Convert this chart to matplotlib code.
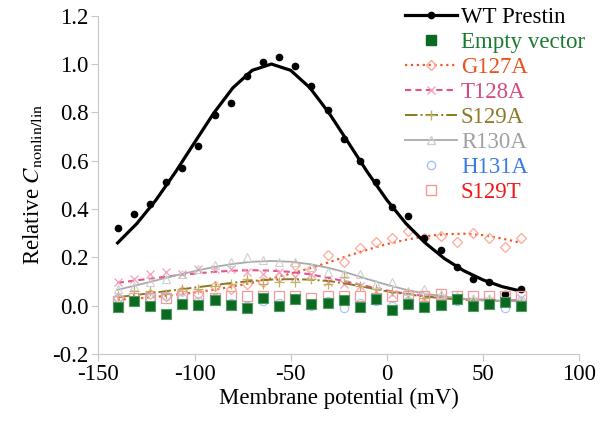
import matplotlib
matplotlib.use('Agg')
import matplotlib.pyplot as plt
from matplotlib.lines import Line2D
from matplotlib.ticker import FormatStrFormatter

plt.rcParams['font.family'] = ['Liberation Serif', 'DejaVu Serif']
plt.rcParams['mathtext.fontset'] = 'stix'
plt.rcParams['axes.unicode_minus'] = False

# measured voltages (mV)
voltage = [-140.0, -131.6, -123.2, -114.8, -106.4, -98.0, -89.6, -81.2, -72.8, -64.4,
           -56.0, -47.6, -39.2, -30.8, -22.4, -14.0, -5.6, 2.8, 11.2, 19.6,
           28.0, 36.4, 44.8, 53.2, 61.6, 70.0]

wt = [0.32, 0.38, 0.42, 0.51, 0.57, 0.66, 0.79, 0.84, 0.95, 1.01,
      1.03, 0.99, 0.91, 0.81, 0.69, 0.60, 0.51, 0.41, 0.37, 0.28,
      0.23, 0.16, 0.11, 0.10, 0.05, 0.07]
empty = [-0.007, 0.021, -0.003, -0.033, 0.008, 0.003, 0.025, 0.003, -0.010, 0.030,
         0.000, 0.029, 0.008, 0.011, 0.025, -0.005, 0.029, -0.017, 0.008, -0.007,
         0.001, 0.029, -0.003, 0.008, 0.014, 0.000]
g127a = [0.03, 0.02, 0.05, 0.04, 0.06, 0.05, 0.08, 0.07, 0.09, 0.10,
         0.12, 0.17, 0.15, 0.21, 0.18, 0.24, 0.265, 0.28, 0.31, 0.28,
         0.29, 0.265, 0.30, 0.28, 0.245, 0.28]
t128a = [0.10, 0.11, 0.13, 0.14, 0.13, 0.15, 0.15, 0.15, 0.14, 0.13,
         0.14, 0.12, 0.13, 0.10, 0.09, 0.08, 0.06, 0.05, 0.04, 0.03,
         0.03, 0.03, 0.02, 0.02, 0.02, 0.03]
s129a = [0.04, 0.06, 0.06, 0.05, 0.07, 0.07, 0.08, 0.09, 0.11, 0.09,
         0.10, 0.10, 0.11, 0.09, 0.12, 0.08, 0.07, 0.06, 0.05, 0.03,
         0.04, 0.03, 0.02, 0.02, 0.02, 0.02]
r130a = [0.07, 0.08, 0.10, 0.11, 0.13, 0.15, 0.17, 0.18, 0.20, 0.19,
         0.18, 0.18, 0.16, 0.14, 0.13, 0.13, 0.09, 0.10, 0.06, 0.07,
         0.05, 0.04, 0.03, 0.03, 0.02, 0.02]
h131a = [0.03, 0.02, 0.03, 0.04, 0.03, 0.02, 0.03, 0.01, 0.00, 0.02,
         0.01, 0.03, 0.00, 0.02, -0.01, 0.01, 0.02, 0.00, 0.02, -0.01,
         0.01, 0.02, 0.00, 0.01, -0.01, 0.02]
s129t = [0.02, 0.03, 0.03, 0.03, 0.04, 0.04, 0.03, 0.04, 0.04, 0.04,
         0.04, 0.04, 0.03, 0.04, 0.04, 0.04, 0.03, 0.04, 0.04, 0.04,
         0.05, 0.04, 0.04, 0.04, 0.04, 0.04]

# fitted curves
fit_v = [-140, -130, -120, -110, -100, -90, -80, -70, -60, -50, -40,
         -30, -20, -10, 0, 10, 20, 30, 40, 50, 60, 70]
wt_fit = [0.26, 0.34, 0.438, 0.552, 0.675, 0.797, 0.902, 0.974, 1.0, 0.974, 0.902,
          0.797, 0.675, 0.552, 0.438, 0.34, 0.26, 0.195, 0.145, 0.107, 0.079, 0.06]
g127a_fit = [0.025, 0.030, 0.037, 0.045, 0.055, 0.066, 0.080, 0.095, 0.113, 0.133, 0.155,
             0.180, 0.207, 0.232, 0.255, 0.273, 0.287, 0.296, 0.298, 0.292, 0.278, 0.26]
t128a_fit = [0.095, 0.105, 0.115, 0.125, 0.133, 0.140, 0.145, 0.147, 0.145, 0.140, 0.130,
             0.115, 0.098, 0.080, 0.063, 0.050, 0.040, 0.033, 0.028, 0.025, 0.023, 0.022]
s129a_fit = [0.035, 0.045, 0.055, 0.065, 0.075, 0.085, 0.095, 0.103, 0.108, 0.110, 0.108,
             0.102, 0.090, 0.075, 0.060, 0.048, 0.038, 0.030, 0.025, 0.022, 0.020, 0.019]
r130a_fit = [0.066, 0.085, 0.105, 0.125, 0.143, 0.160, 0.173, 0.182, 0.185, 0.182, 0.172,
             0.156, 0.135, 0.110, 0.087, 0.066, 0.050, 0.038, 0.029, 0.023, 0.020, 0.018]

fig = plt.figure(figsize=(6.15, 4.21), dpi=100)
ax = fig.add_axes([0.16, 0.159, 0.7815, 0.8037])

ax.plot(fit_v, wt_fit, color='black', lw=2.3, zorder=3)
ax.plot(voltage, wt, 'o', color='black', ms=4.5, zorder=3)

ax.plot(voltage, empty, 's', color='#0b6a22', mec='#4f9a5c', mew=0.8, ms=6.5, zorder=4)

ax.plot(fit_v, g127a_fit, ':', color='#f05a28', lw=1.6, zorder=2)
ax.plot(voltage, g127a, 'D', mfc='none', mec='#ffa898', mew=0.9, ms=5.5, zorder=2)

ax.plot(fit_v, t128a_fit, '--', color='#e8508a', lw=1.5, dashes=(3, 2), zorder=2)
ax.plot(voltage, t128a, 'x', color='#f4a0bc', mew=0.9, ms=6, zorder=2)

ax.plot(fit_v, s129a_fit, '-.', color='#8a7a20', lw=1.4, zorder=2)
ax.plot(voltage, s129a, '+', color='#c0b060', mew=0.9, ms=7, zorder=2)

ax.plot(fit_v, r130a_fit, '-', color='#aaaaaa', lw=1.3, zorder=2)
ax.plot(voltage, r130a, '^', mfc='none', mec='#cfcfcf', mew=0.8, ms=6, zorder=2)

ax.plot(voltage, h131a, 'o', mfc='none', mec='#a8c4f4', mew=0.8, ms=6, zorder=2)
ax.plot(voltage, s129t, 's', mfc='none', mec='#f49a9a', mew=0.9, ms=6.5, zorder=3)

ax.set_xlim(-150, 100)
ax.set_ylim(-0.2, 1.2)
ax.set_xticks([-150, -100, -50, 0, 50, 100])
ax.set_yticks([-0.2, 0.0, 0.2, 0.4, 0.6, 0.8, 1.0, 1.2])
ax.yaxis.set_major_formatter(FormatStrFormatter('%.1f'))
for side in ['top', 'right']:
    ax.spines[side].set_visible(False)
for side in ['left', 'bottom']:
    ax.spines[side].set_color('#c8c8c8')
ax.tick_params(direction='out', length=5, color='#c8c8c8', labelsize=16.5, pad=2)
ax.set_xlabel('Membrane potential (mV)', fontsize=16.5, labelpad=2)
ax.set_ylabel(r'Relative $C_{\rm nonlin/lin}$', fontsize=16.5, labelpad=6)

handles = [
    Line2D([], [], color='black', lw=2.3, marker='o', ms=4.5),
    Line2D([], [], ls='none', marker='s', color='#0b6a22', ms=6.5),
    Line2D([], [], ls=':', color='#f05a28', lw=1.6, marker='D', mfc='none', mec='#ffa898', ms=5),
    Line2D([], [], ls='--', dashes=(3, 2), color='#e8508a', lw=1.5, marker='x', mec='#f4a0bc', ms=6),
    Line2D([], [], ls='-.', color='#8a7a20', lw=1.4, marker='+', mec='#c0b060', ms=7),
    Line2D([], [], ls='-', color='#aaaaaa', lw=1.3, marker='^', mfc='none', mec='#cfcfcf', ms=6),
    Line2D([], [], ls='none', marker='o', mfc='none', mec='#a8c4f4', ms=6),
    Line2D([], [], ls='none', marker='s', mfc='none', mec='#f49a9a', ms=6.5),
]
labels = ['WT Prestin', 'Empty vector', 'G127A', 'T128A', 'S129A', 'R130A', 'H131A', 'S129T']
text_colors = ['black', '#1c7a30', '#e8541e', '#d84a80', '#8a7a28', '#a0a0a0', '#3a7ae8', '#f01818']

leg = fig.legend(handles, labels, loc='upper left', bbox_to_anchor=(0.658, 0.983),
                 frameon=False, fontsize=16.5, numpoints=1, handlelength=2.3,
                 handletextpad=0.15, labelspacing=0.17, borderpad=0, borderaxespad=0)
for txt, col in zip(leg.get_texts(), text_colors):
    txt.set_color(col)

fig.savefig('out.png', dpi=100)
